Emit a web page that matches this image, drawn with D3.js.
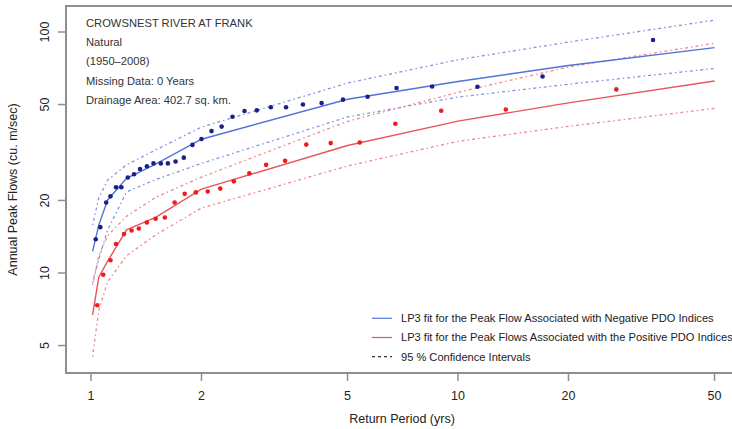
<!DOCTYPE html>
<html>
<head>
<meta charset="utf-8">
<script src="https://cdnjs.cloudflare.com/ajax/libs/d3/7.8.5/d3.min.js"></script>
<style>
    body { margin: 0; background: #fff; }
    svg { display: block; font-family: "Liberation Sans", Arial, sans-serif; }
</style>
</head>
<body>
<div id="chart_freq"></div>
<script>
// observed annual peaks, negative PDO years (return period, flow)
var negT = [1.03, 1.06, 1.10, 1.13, 1.17, 1.21, 1.26, 1.31, 1.36, 1.42, 1.48, 1.55, 1.62, 1.70, 1.79, 1.89, 2.0,
    2.13, 2.27, 2.43, 2.62, 2.83, 3.09, 3.4, 3.78, 4.25, 4.86, 5.67, 6.8, 8.5, 11.3, 17, 34];
var negQ = [13.8, 15.5, 19.6, 20.8, 22.7, 22.7, 24.9, 25.7, 27.0, 27.7, 28.5, 28.5, 28.5, 29.0, 30.1, 34.0, 36.0,
    38.8, 40.5, 44.5, 47.0, 47.3, 48.7, 48.7, 50.0, 50.7, 52.4, 53.9, 58.6, 59.4, 59.3, 65.4, 92.6];

// observed annual peaks, positive PDO years
var posT = [1.04, 1.08, 1.13, 1.17, 1.23, 1.29, 1.35, 1.42, 1.5, 1.59, 1.69, 1.8, 1.93, 2.08, 2.25, 2.45, 2.7,
    3.0, 3.38, 3.86, 4.5, 5.4, 6.75, 9.0, 13.5, 27];
var posQ = [7.35, 9.84, 11.3, 13.2, 14.5, 15.0, 15.3, 16.2, 16.8, 17.0, 19.6, 21.3, 21.6, 21.8, 22.4, 24.0, 25.9,
    28.1, 29.2, 34.1, 34.6, 34.8, 41.6, 47.1, 47.7, 57.8];

// LP3 fits and 95% confidence limits
var fitT = [1.01, 1.05, 1.11, 1.25, 1.5, 2, 5, 10, 20, 50];
var negFit = [12.3, 15.8, 20.1, 24.7, 28.3, 35.9, 52.6, 62.3, 72.6, 86.1];
var negUpper = [15.8, 20.5, 24.3, 28.1, 32.4, 40.3, 61.4, 76.7, 90.8, 112];
var negLower = [9.1, 11.4, 15.1, 21.7, 24.4, 28.5, 44.4, 53.7, 60.7, 70.6];
var posFit = [6.7, 9.6, 11.2, 15.1, 17.0, 22.3, 33.8, 42.7, 50.8, 62.6];
var posUpper = [8.9, 11.8, 14.3, 17.2, 20.6, 25.0, 42.6, 56.2, 71.6, 89.8];
var posLower = [4.5, 7.0, 9.2, 11.8, 14.4, 18.6, 27.8, 35.2, 40.6, 48.2];

var xTicks = [1, 2, 5, 10, 20, 50];
var yTicks = [5, 10, 20, 50, 100];

var infoLines = ["CROWSNEST RIVER AT FRANK", "Natural", "(1950\u20132008)", "Missing Data: 0 Years",
    "Drainage Area: 402.7 sq. km."];
var legendItems = [
    {label: "LP3 fit for the Peak Flow Associated with Negative PDO Indices", color: "#5272d8", dash: null},
    {label: "LP3 fit for the Peak Flows Associated with the Positive PDO Indices", color: "#e8555a", dash: null},
    {label: "95 % Confidence Intervals", color: "#333", dash: "3,3"}
];

var width = 732,
    height = 429,
    box = {left: 66, top: 6, right: 738, bottom: 373},
    gray = "#8e8e8e";

var x = d3.scaleLog().domain([1, 10]).range([91, 458]);
var y = d3.scaleLog().domain([10, 100]).range([273, 32]);

var svg = d3.select("#chart_freq").append("svg")
    .attr("width", width)
    .attr("height", height);

svg.append("defs").append("clipPath")
    .attr("id", "plotclip")
    .append("rect")
    .attr("x", box.left).attr("y", box.top)
    .attr("width", box.right - box.left).attr("height", box.bottom - box.top);

var plot = svg.append("g").attr("clip-path", "url(#plotclip)");

var line = d3.line()
    .x(function (d) { return x(d[0]); })
    .y(function (d) { return y(d[1]); });

function drawCurve(vals, color, dash, w) {
    var pts = fitT.map(function (t, i) { return [t, vals[i]]; });
    plot.append("path")
        .datum(pts)
        .attr("d", line)
        .attr("fill", "none")
        .attr("stroke", color)
        .attr("stroke-width", w)
        .attr("stroke-dasharray", dash);
}

// confidence bands first, fits on top
drawCurve(negUpper, "#8393e4", "1.5,3,3,3", 1.3);
drawCurve(negLower, "#8393e4", "1.5,3,3,3", 1.3);
drawCurve(posUpper, "#ef878e", "1.5,3,3,3", 1.3);
drawCurve(posLower, "#ef878e", "1.5,3,3,3", 1.3);
drawCurve(negFit, "#5272d8", null, 1.4);
drawCurve(posFit, "#e8555a", null, 1.4);

function drawPoints(ts, qs, color) {
    plot.selectAll(null)
        .data(ts.map(function (t, i) { return [t, qs[i]]; }))
        .enter().append("circle")
        .attr("cx", function (d) { return x(d[0]); })
        .attr("cy", function (d) { return y(d[1]); })
        .attr("r", 2.3)
        .attr("fill", color);
}

drawPoints(negT, negQ, "#1a2088");
drawPoints(posT, posQ, "#ec1c1c");

// frame
svg.append("rect")
    .attr("x", box.left).attr("y", box.top)
    .attr("width", box.right - box.left).attr("height", box.bottom - box.top)
    .attr("fill", "none")
    .attr("stroke", gray)
    .attr("stroke-width", 2);

// x axis
var xAxis = svg.append("g");
xAxis.selectAll(".xtick")
    .data(xTicks)
    .enter().append("line")
    .attr("x1", function (d) { return x(d); })
    .attr("x2", function (d) { return x(d); })
    .attr("y1", box.bottom)
    .attr("y2", box.bottom + 8)
    .attr("stroke", gray)
    .attr("stroke-width", 1.5);
xAxis.selectAll(".xlab")
    .data(xTicks)
    .enter().append("text")
    .attr("x", function (d) { return x(d); })
    .attr("y", 400)
    .attr("text-anchor", "middle")
    .style("font-size", "12.5px")
    .attr("fill", "#222")
    .text(function (d) { return d; });

// y axis
var yAxis = svg.append("g");
yAxis.selectAll(".ytick")
    .data(yTicks)
    .enter().append("line")
    .attr("x1", box.left - 8)
    .attr("x2", box.left)
    .attr("y1", function (d) { return y(d); })
    .attr("y2", function (d) { return y(d); })
    .attr("stroke", gray)
    .attr("stroke-width", 1.5);
yAxis.selectAll(".ylab")
    .data(yTicks)
    .enter().append("text")
    .attr("transform", function (d) { return "translate(49," + y(d) + ") rotate(-90)"; })
    .attr("text-anchor", "middle")
    .style("font-size", "12.5px")
    .attr("fill", "#222")
    .text(function (d) { return d; });

svg.append("text")
    .attr("x", 402)
    .attr("y", 423)
    .attr("text-anchor", "middle")
    .style("font-size", "12.5px")
    .attr("fill", "#222")
    .text("Return Period (yrs)");

svg.append("text")
    .attr("transform", "translate(16.5," + ((box.top + box.bottom) / 2) + ") rotate(-90)")
    .attr("text-anchor", "middle")
    .style("font-size", "12.5px")
    .attr("fill", "#222")
    .text("Annual Peak Flows (cu. m/sec)");

// station info
svg.selectAll(".info")
    .data(infoLines)
    .enter().append("text")
    .attr("x", 86)
    .attr("y", function (d, i) { return 27 + i * 19.2; })
    .style("font-size", "11.2px")
    .attr("fill", "#333")
    .text(function (d) { return d; });

// legend
var legend = svg.selectAll(".legend")
    .data(legendItems)
    .enter().append("g")
    .attr("transform", function (d, i) { return "translate(372," + (318.3 + i * 19.2) + ")"; });
legend.append("line")
    .attr("x1", 0).attr("x2", 20)
    .attr("stroke", function (d) { return d.color; })
    .attr("stroke-width", 1.2)
    .attr("stroke-dasharray", function (d) { return d.dash; });
legend.append("text")
    .attr("x", 29)
    .attr("dy", "0.35em")
    .style("font-size", "11.1px")
    .attr("fill", "#222")
    .text(function (d) { return d.label; });
</script>
</body>
</html>
